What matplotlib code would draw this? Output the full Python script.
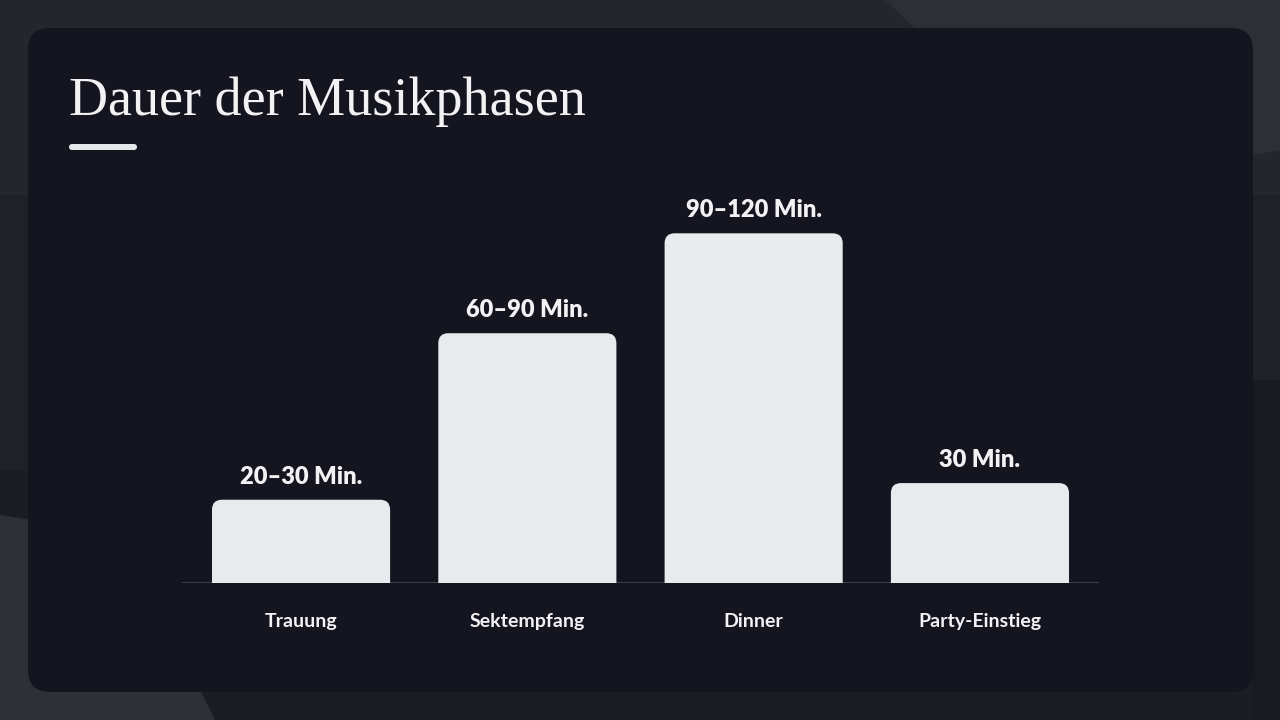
import matplotlib
matplotlib.use("Agg")
import matplotlib.pyplot as plt
from matplotlib.patches import FancyBboxPatch, Polygon, PathPatch
from matplotlib.path import Path
from matplotlib.transforms import Affine2D, IdentityTransform

# data (minutes, bar height = middle of the range)
phasen = ["Trauung", "Sektempfang", "Dinner", "Party-Einstieg"]
dauer = [25, 75, 105, 30]
beschriftung = ["20–30 Min.", "60–90 Min.", "90–120 Min.", "30 Min."]

W, H = 1280, 720
fig = plt.figure(figsize=(W / 100, H / 100), dpi=100)
fig.patch.set_facecolor("#1d2026")

# pixel coords with origin top-left
tf = Affine2D().scale(1, -1).translate(0, H).scale(1 / W, 1 / H) + fig.transFigure

# background shapes
bg = [
    ([(0, 0), (1280, 0), (1280, 195), (0, 195)], "#23262d"),
    ([(885, 0), (1280, 0), (1280, 150), (1253, 155), (917, 30)], "#2d2f36"),
    ([(0, 195), (1280, 195), (1280, 470), (0, 470)], "#1f2127"),
    ([(0, 470), (1280, 470), (1280, 720), (0, 720)], "#1a1d22"),
    ([(1253, 380), (1280, 380), (1280, 720), (1253, 720)], "#171b20"),
    ([(0, 515), (30, 520), (200, 690), (215, 720), (0, 720)], "#2e3036"),
]
for pts, c in bg:
    fig.add_artist(Polygon(pts, closed=True, facecolor=c, edgecolor="none",
                           transform=tf, zorder=0))

card = FancyBboxPatch((28, 28), 1225, 664, boxstyle="round,pad=0,rounding_size=22",
                      facecolor="#14151f", edgecolor="none", transform=tf, zorder=1)
fig.add_artist(card)

fig.text(69 / W, 1 - 115 / H, "Dauer der Musikphasen", fontsize=39,
         family="Liberation Serif", color="#f2f2f4", va="baseline", ha="left", zorder=3)
fig.add_artist(FancyBboxPatch((69, 144), 68, 6, boxstyle="round,pad=0,rounding_size=3",
                              facecolor="#e6e7eb", edgecolor="none", transform=tf, zorder=3))

# axes placed in pixels: left 182, right 1099, baseline at 583
ax = fig.add_axes([182 / W, (H - 583) / H, (1099 - 182) / W, (583 - 200) / H])
ax.set_zorder(2)
ax.patch.set_visible(False)
ax.set_xlim(-0.526, 3.526)
ax.set_ylim(0, 115)
for s in ax.spines.values():
    s.set_visible(False)
ax.set_xticks([])
ax.set_yticks([])
ax.axhline(0, color="#3a3c46", lw=1.5, zorder=1)

bw = 0.787
r = 10
for i, v in enumerate(dauer):
    x0, yb = ax.transData.transform((i - bw / 2, 0))
    x1, yt = ax.transData.transform((i + bw / 2, v))
    verts = [(x0, yb), (x0, yt - r), (x0, yt), (x0 + r, yt), (x1 - r, yt),
             (x1, yt), (x1, yt - r), (x1, yb), (x0, yb)]
    codes = [Path.MOVETO, Path.LINETO, Path.CURVE3, Path.CURVE3, Path.LINETO,
             Path.CURVE3, Path.CURVE3, Path.LINETO, Path.CLOSEPOLY]
    ax.add_artist(PathPatch(Path(verts, codes), facecolor="#e9eaed", edgecolor="none",
                            transform=IdentityTransform(), zorder=2))
    ax.annotate(beschriftung[i], (i, v), xytext=(0, 11.5), textcoords="offset points",
                ha="center", va="baseline", fontsize=17, fontweight="heavy",
                family="Lato", color="#f2f2f4")
    ax.annotate(phasen[i], (i, 0), xytext=(0, -31.7), textcoords="offset points",
                ha="center", va="baseline", fontsize=14, fontweight="bold",
                family="Lato", color="#f2f2f4", annotation_clip=False)

fig.savefig("out.png", dpi=100, facecolor=fig.get_facecolor())
